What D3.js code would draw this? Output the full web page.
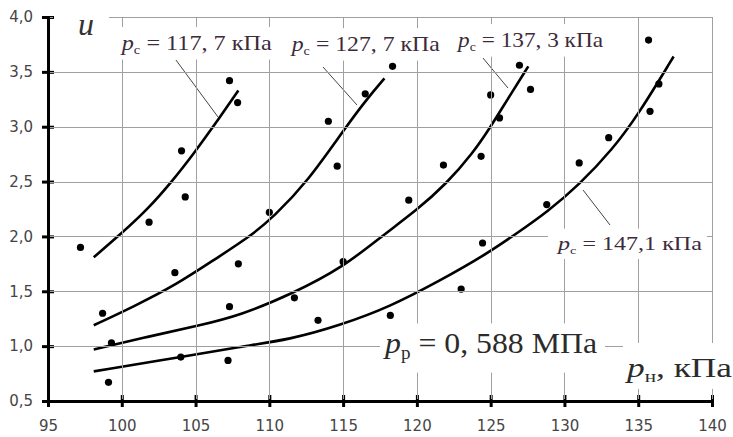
<!DOCTYPE html>
<html>
<head>
<meta charset="utf-8">
<script src="https://cdn.jsdelivr.net/npm/d3@7"></script>
<style>
body { margin: 0; background: #fff; }
svg { display: block; }
</style>
</head>
<body>
<svg id="chart" width="733" height="437"></svg>
<script>
// axis ticks
var xTicks = [95, 100, 105, 110, 115, 120, 125, 130, 135, 140];
var yTicks = [0.5, 1.0, 1.5, 2.0, 2.5, 3.0, 3.5, 4.0];

// measured points [p_н kPa, u], one list per p_с
var pts117 = [[97.2,1.90],[101.85,2.13],[104.05,2.78],[104.3,2.36],[107.3,3.42],[107.85,3.22]];
var pts127 = [[98.7,1.30],[103.6,1.67],[107.9,1.75],[110.0,2.22],[114.0,3.05],[114.6,2.64],[116.5,3.30],[118.35,3.55]];
var pts137 = [[99.3,1.03],[107.3,1.36],[111.7,1.44],[115.0,1.77],[119.45,2.33],[121.8,2.65],[124.35,2.73],[125.0,3.29],[125.6,3.08],[126.95,3.56],[127.7,3.34]];
var pts147 = [[99.1,0.67],[104.0,0.90],[107.2,0.87],[113.3,1.235],[118.2,1.28],[123.0,1.52],[124.45,1.94],[128.8,2.29],[131.0,2.67],[133.0,2.90],[135.7,3.79],[135.8,3.14],[136.4,3.39]];

// trend curves
var fit117 = [[98.1,1.81],[100,2.03],[101.7,2.24],[103.4,2.5],[104.9,2.76],[106.2,3.0],[107.9,3.33]];
var fit127 = [[98.1,1.19],[100.8,1.36],[103.7,1.56],[106.4,1.80],[108.7,2.0],[110.3,2.18],[112.6,2.5],[115.2,3.0],[116.6,3.25],[117.8,3.44]];
var fit137 = [[98.1,0.97],[101.9,1.09],[105.3,1.19],[108.0,1.28],[111.6,1.48],[115.0,1.72],[117.6,2.0],[120.0,2.24],[122.0,2.48],[123.8,2.76],[125.0,3.0],[126.1,3.24],[127.55,3.55]];
var fit147 = [[98.1,0.77],[104,0.90],[108,0.995],[111.4,1.06],[114.8,1.19],[118.2,1.36],[121.6,1.60],[124.5,1.82],[126.9,2.04],[128.8,2.22],[131.0,2.47],[133.3,2.80],[135.0,3.11],[137.4,3.64]];

var series = [
  {pts: pts117, fit: fit117},
  {pts: pts127, fit: fit127},
  {pts: pts137, fit: fit137},
  {pts: pts147, fit: fit147}
];

// annotations (data units)
var leaders = [[103.67,3.608,106.52,3.089],[113.64,3.544,115.94,3.198],[124.48,3.626,126.17,3.353],[131.26,2.423,133.09,2.104]];

// pad = [left, right, top, bottom] of the blank box behind each note
var notes = [
  {main: "u", sub: "", rest: "", x: 97.03, y: 3.836, size: 32, width: 0, color: "#333", pad: [25, 15, 20, 4]},
  {main: "p", sub: "с", rest: " = 117, 7 кПа", x: 100.0, y: 3.70, size: 21, width: 150, color: "#3d2b3a", pad: [6, 6, 5, 5]},
  {main: "p", sub: "с", rest: " = 127, 7 кПа", x: 111.52, y: 3.69, size: 21, width: 148, color: "#3d2b3a", pad: [6, 6, 5, 5]},
  {main: "p", sub: "с", rest: " = 137, 3 кПа", x: 122.79, y: 3.727, size: 21, width: 145, color: "#3d2b3a", pad: [6, 6, 5, 5]},
  {main: "p", sub: "с", rest: " = 147,1 кПа", x: 129.56, y: 1.876, size: 18, width: 144, color: "#3d2b3a", pad: [10, 5, 6, 5]},
  {main: "p", sub: "р", rest: " = 0, 588 МПа", x: 117.84, y: 0.9375, size: 30, width: 212, color: "#2b2b2b", pad: [5, 8, 4, 13]},
  {main: "p", sub: "н", rest: ", кПа", x: 134.24, y: 0.719, size: 27, width: 105, color: "#2b2b2b", pad: [4, 4, 11, 6]}
];

var svg = d3.select("#chart"),
    margin = {top: 17, right: 21, bottom: 36, left: 48},
    width = +svg.attr("width") - margin.left - margin.right,
    height = +svg.attr("height") - margin.top - margin.bottom;

var x = d3.scaleLinear().domain([95, 140]).range([margin.left, margin.left + width]);
var y = d3.scaleLinear().domain([0.5, 4]).range([margin.top + height, margin.top]);

var fmt = function(d) { return d3.format(".1f")(d).replace(".", ","); };
var crisp = function(v) { return Math.round(v) + 0.5; };

// mask: grid is hidden behind the note boxes
var mask = svg.append("defs").append("mask").attr("id", "gridMask")
  .attr("maskUnits", "userSpaceOnUse")
  .attr("x", 0).attr("y", 0).attr("width", 733).attr("height", 437);
mask.append("rect").attr("x", 0).attr("y", 0).attr("width", 733).attr("height", 437).attr("fill", "#fff");

var markG = svg.append("g"),
    noteG = svg.append("g"),
    axisG = svg.append("g"),
    gridG = svg.append("g").attr("mask", "url(#gridMask)");

// curves + dots
var trend = d3.line()
  .x(function(d) { return x(d[0]); })
  .y(function(d) { return y(d[1]); })
  .curve(d3.curveBasis);

series.forEach(function(s) {
  markG.append("path")
    .datum(s.fit)
    .attr("fill", "none")
    .attr("stroke", "#000")
    .attr("stroke-width", 2.6)
    .attr("d", trend);

  markG.selectAll(null)
    .data(s.pts)
    .enter().append("circle")
    .attr("cx", function(d) { return x(d[0]); })
    .attr("cy", function(d) { return y(d[1]); })
    .attr("r", 3.6)
    .attr("fill", "#000");
});

// leader lines
markG.selectAll(null)
  .data(leaders)
  .enter().append("line")
  .attr("x1", function(d) { return x(d[0]); })
  .attr("y1", function(d) { return y(d[1]); })
  .attr("x2", function(d) { return x(d[2]); })
  .attr("y2", function(d) { return y(d[3]); })
  .attr("stroke", "#444").attr("stroke-width", 1);

// notes, each cutting a hole in the grid
notes.forEach(function(n) {
  var tx = x(n.x), ty = y(n.y);
  var t = noteG.append("text")
    .attr("x", tx)
    .attr("y", ty)
    .attr("font-family", "'Liberation Serif', 'Times New Roman', serif")
    .attr("font-size", n.size)
    .attr("fill", n.color);
  t.append("tspan").attr("font-style", "italic").text(n.main);
  if (n.sub) {
    t.append("tspan").attr("font-size", n.size * 0.6).attr("dy", n.size * 0.2).text(n.sub);
    t.append("tspan").attr("dy", -n.size * 0.2).text(n.rest);
  }
  var w = n.width;
  if (w) t.attr("textLength", w).attr("lengthAdjust", "spacingAndGlyphs");
  else w = t.node().getComputedTextLength();
  mask.append("rect")
    .attr("x", tx - n.pad[0])
    .attr("y", ty - n.size * 0.85 - n.pad[2])
    .attr("width", w + n.pad[0] + n.pad[1])
    .attr("height", n.size * 1.07 + n.pad[2] + n.pad[3])
    .attr("fill", "#000");
});

// axes
var yAxis = d3.axisLeft(y).tickValues(yTicks).tickSize(6).tickSizeOuter(0).tickPadding(9).tickFormat(fmt);
var xAxis = d3.axisBottom(x).tickValues(xTicks).tickSize(6).tickSizeOuter(0).tickPadding(13).tickFormat(d3.format("d"));

var ay = axisG.append("g").attr("transform", "translate(" + margin.left + ",0)").call(yAxis);
var ax = axisG.append("g").attr("transform", "translate(0," + (margin.top + height) + ")").call(xAxis);

[ay, ax].forEach(function(g) {
  g.attr("font-family", "'DejaVu Sans', Verdana, sans-serif").attr("font-size", 15);
  g.select(".domain").attr("stroke", "#000").attr("stroke-width", 3);
  g.selectAll(".tick line").attr("stroke", "#000").attr("stroke-width", 3);
  g.selectAll(".tick text").attr("fill", "#454545");
});
ay.selectAll(".tick line").attr("x1", 6);
ax.selectAll(".tick line").attr("y1", -6);

// grid, drawn last so nothing can paint over it
gridG.selectAll(null)
  .data(xTicks.slice(1))
  .enter().append("line")
  .attr("x1", function(d) { return crisp(x(d)); })
  .attr("x2", function(d) { return crisp(x(d)); })
  .attr("y1", y(4)).attr("y2", y(0.5) - 2)
  .attr("stroke", "#a0a0a0").attr("stroke-width", 1);

gridG.selectAll(null)
  .data(yTicks.slice(1))
  .enter().append("line")
  .attr("y1", function(d) { return crisp(y(d)); })
  .attr("y2", function(d) { return crisp(y(d)); })
  .attr("x1", x(95) + 2).attr("x2", x(140))
  .attr("stroke", "#a0a0a0").attr("stroke-width", 1);
</script>
</body>
</html>
